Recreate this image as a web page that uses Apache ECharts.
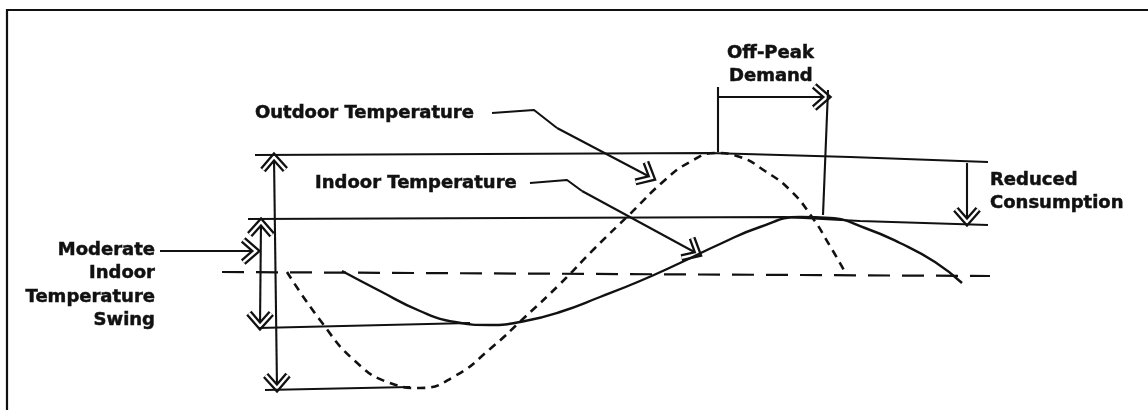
<!DOCTYPE html>
<html>
<head>
<meta charset="utf-8">
<script src="https://cdn.jsdelivr.net/npm/echarts@6.0.0/dist/echarts.min.js"></script>
<style>
  html, body { margin: 0; padding: 0; background: #fff; }
  #root { width: 1148px; height: 410px; }
</style>
</head>
<body>
<div id="root"></div>
<script>
// sketch coordinates: x across the page, y downwards (0 = top)
var outdoorTemp = [[287,272],[320,320],[355,361],[390,383],[420,388],[455,376],[490,349],[525,317],[560,284],[595,248],[630,214],[665,180],[690,162],[715,153],[740,157],[765,171],[790,190],[812,217],[830,246],[845,272]];
var indoorTemp = [[342,271],[380,291],[420,311],[455,322],[490,325],[525,321],[560,312],[600,297],[640,281],[680,263],[720,244],[760,227],[800,217],[830,218],[865,228],[900,243],[935,262],[962,283]];

var outdoorMaxLine = [[255,155],[710,153],[850,157],[988,162]];
var indoorMaxLine = [[248,219],[785,217],[860,221],[988,225]];
var meanLine = [[222,272],[990,276]];
var indoorMinLine = [[258,328],[470,323]];
var outdoorMinLine = [[265,390],[410,387]];

var outdoorLeader = [[492,113],[534,110],[557,128]];
var indoorLeader = [[530,183],[567,180],[582,191]];
var offPeakLeft = [[718,87],[718,152]];
var offPeakRight = [[828,90],[823,215]];

// [x1, y1, x2, y2, heads]  heads: 1 = at end, 2 = both ends
var arrows = [
  [274,157,277,388,2],
  [261,222,260,326,2],
  [160,251,256,251,1],
  [557,128,652,178,1],
  [582,191,698,254,1],
  [718,97,827,97,1],
  [967,163,967,222,1]
];

var labelTexts = ['Outdoor Temperature', 'Indoor Temperature', 'Off-Peak', 'Demand', 'Reduced', 'Consumption', 'Moderate', 'Indoor', 'Temperature', 'Swing'];

var ink = '#111';
var chart = echarts.init(document.getElementById('root'));

function solid(data, w) {
  return { type: 'line', data: data, symbol: 'none', silent: true,
    lineStyle: { color: ink, width: w || 2.1 } };
}

// hollow hand-drawn style arrow head
function head(tip, from) {
  var dx = tip[0] - from[0], dy = tip[1] - from[1];
  var len = Math.sqrt(dx * dx + dy * dy);
  var ux = dx / len, uy = dy / len;
  var L = 17, a = 0.72;
  var c = Math.cos(a), s = Math.sin(a);
  var w1 = [tip[0] - L * (ux * c - uy * s), tip[1] - L * (uy * c + ux * s)];
  var w2 = [tip[0] - L * (ux * c + uy * s), tip[1] - L * (uy * c - ux * s)];
  var pts = [w1, tip, w2];
  return [
    { type: 'polyline', shape: { points: pts }, style: { stroke: ink, lineWidth: 7, fill: null, lineJoin: 'miter' } },
    { type: 'polyline', shape: { points: pts }, style: { stroke: '#fff', lineWidth: 2.4, fill: null } }
  ];
}

var textStyle = { fill: ink, stroke: ink, lineWidth: 0.5, font: 'bold 18px "DejaVu Sans"', textVerticalAlign: 'middle' };
function txt(s, x, y, align) {
  return { type: 'text', x: x, y: y, style: Object.assign({}, textStyle, { text: s, textAlign: align || 'left' }) };
}

var option = {
  animation: false,
  grid: { left: 0, right: 0, top: 0, bottom: 0 },
  xAxis: { type: 'value', min: 0, max: 1148, show: false },
  yAxis: { type: 'value', min: 0, max: 410, inverse: true, show: false },
  graphic: [
    { type: 'polyline', shape: { points: [[7,410],[7,10],[1148,10]] }, style: { stroke: ink, lineWidth: 2.2, fill: null } },
    txt(labelTexts[0], 255, 113),
    txt(labelTexts[1], 315, 183),
    txt(labelTexts[2], 727, 53),
    txt(labelTexts[3], 729, 76),
    txt(labelTexts[4], 990, 180),
    txt(labelTexts[5], 990, 203),
    txt(labelTexts[6], 155, 250, 'right'),
    txt(labelTexts[7], 155, 273, 'right'),
    txt(labelTexts[8], 155, 297, 'right'),
    txt(labelTexts[9], 155, 320, 'right')
  ],
  series: [
    solid(outdoorMaxLine),
    solid(indoorMaxLine),
    solid(indoorMinLine),
    solid(outdoorMinLine),
    { type: 'line', data: meanLine, symbol: 'none', silent: true,
      lineStyle: { color: ink, width: 2.2, type: [22, 12] } },
    { type: 'line', data: outdoorTemp, symbol: 'none', smooth: 0.5, silent: true,
      lineStyle: { color: ink, width: 2.6, type: [8, 6] } },
    { type: 'line', data: indoorTemp, symbol: 'none', smooth: 0.5, silent: true,
      lineStyle: { color: ink, width: 2.4 } },
    solid(outdoorLeader),
    solid(indoorLeader),
    solid(offPeakLeft),
    solid(offPeakRight),
    {
      type: 'custom', data: arrows, silent: true,
      renderItem: function (params, api) {
        var a = api.coord([api.value(0), api.value(1)]);
        var b = api.coord([api.value(2), api.value(3)]);
        var children = [{ type: 'line', shape: { x1: a[0], y1: a[1], x2: b[0], y2: b[1] }, style: { stroke: ink, lineWidth: 2.1 } }];
        children = children.concat(head(b, a));
        if (api.value(4) === 2) children = children.concat(head(a, b));
        return { type: 'group', children: children };
      }
    }
  ]
};

chart.setOption(option);
</script>
</body>
</html>
